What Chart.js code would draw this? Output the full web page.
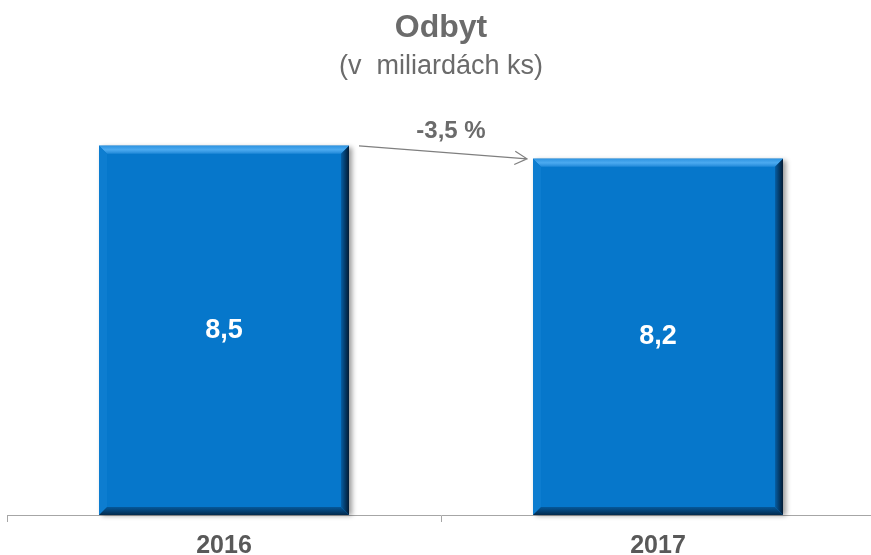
<!DOCTYPE html>
<html lang="cs">
<head>
    <meta charset="UTF-8">
    <title>Odbyt</title>
    <script src="https://cdn.jsdelivr.net/npm/chart.js"></script>
    <style>
        body {
            margin: 0;
            background: #ffffff;
            overflow: hidden;
        }
        canvas {
            display: block;
        }
    </style>
</head>
<body>
    <!-- a bit wider than the window: the last axis tick sits just off the right edge -->
    <canvas id="chart" width="875" height="555"></canvas>

    <script>
        // Data
        const years = ['2016', '2017'];
        const odbyt = [8.5, 8.2];
        const valueLabels = ['8,5', '8,2'];
        const changeLabel = '-3,5 %';

        const barBlue = '#0677cb';
        const textGrey = '#6b6b6b';

        // bevel look on the bars, like the office chart
        const bevelPlugin = {
            id: 'bevel',
            beforeDatasetsDraw(chart) {
                const ctx = chart.ctx;
                chart.getDatasetMeta(0).data.forEach(bar => {
                    const left = bar.x - bar.width / 2;
                    ctx.save();
                    ctx.shadowColor = 'rgba(0,0,0,0.4)';
                    ctx.shadowBlur = 5;
                    ctx.shadowOffsetX = 3;
                    ctx.shadowOffsetY = 1;
                    ctx.fillStyle = barBlue;
                    ctx.fillRect(left, bar.y, bar.width, bar.base - bar.y);
                    ctx.restore();
                });
            },
            afterDatasetsDraw(chart) {
                const ctx = chart.ctx;
                const b = 8;
                chart.getDatasetMeta(0).data.forEach(bar => {
                    const l = bar.x - bar.width / 2;
                    const r = bar.x + bar.width / 2;
                    const t = bar.y;
                    const btm = bar.base;
                    ctx.save();

                    // top
                    let g = ctx.createLinearGradient(0, t, 0, t + b);
                    g.addColorStop(0, '#2f95e2');
                    g.addColorStop(0.5, '#4caaf0');
                    g.addColorStop(1, '#1f88d8');
                    ctx.fillStyle = g;
                    ctx.beginPath();
                    ctx.moveTo(l, t); ctx.lineTo(r, t);
                    ctx.lineTo(r - b, t + b); ctx.lineTo(l + b, t + b);
                    ctx.closePath(); ctx.fill();

                    // left
                    ctx.fillStyle = '#0d7dd0';
                    ctx.beginPath();
                    ctx.moveTo(l, t); ctx.lineTo(l + b, t + b);
                    ctx.lineTo(l + b, btm - b); ctx.lineTo(l, btm);
                    ctx.closePath(); ctx.fill();

                    // right
                    g = ctx.createLinearGradient(r - b, 0, r, 0);
                    g.addColorStop(0, '#065ea4');
                    g.addColorStop(1, '#021a33');
                    ctx.fillStyle = g;
                    ctx.beginPath();
                    ctx.moveTo(r, t); ctx.lineTo(r, btm);
                    ctx.lineTo(r - b, btm - b); ctx.lineTo(r - b, t + b);
                    ctx.closePath(); ctx.fill();

                    // bottom
                    g = ctx.createLinearGradient(0, btm - b, 0, btm);
                    g.addColorStop(0, '#05589a');
                    g.addColorStop(1, '#032a4d');
                    ctx.fillStyle = g;
                    ctx.beginPath();
                    ctx.moveTo(l, btm); ctx.lineTo(r, btm);
                    ctx.lineTo(r - b, btm - b); ctx.lineTo(l + b, btm - b);
                    ctx.closePath(); ctx.fill();

                    ctx.restore();
                });
            }
        };

        // values in the bars + the change arrow
        const labelPlugin = {
            id: 'labels',
            afterDatasetsDraw(chart) {
                const ctx = chart.ctx;
                const bars = chart.getDatasetMeta(0).data;
                ctx.save();
                ctx.fillStyle = '#ffffff';
                ctx.font = 'bold 27px "Liberation Sans", Arial, sans-serif';
                ctx.textAlign = 'center';
                ctx.textBaseline = 'middle';
                bars.forEach((bar, i) => {
                    ctx.fillText(valueLabels[i], bar.x, (bar.y + bar.base) / 2);
                });

                // arrow between the tops
                const a = bars[0], c = bars[1];
                const x1 = a.x + a.width / 2 + 10, y1 = a.y;
                const x2 = c.x - c.width / 2 - 6, y2 = c.y;
                ctx.strokeStyle = '#7f7f7f';
                ctx.lineWidth = 1.2;
                ctx.beginPath();
                ctx.moveTo(x1, y1);
                ctx.lineTo(x2, y2);
                const ang = Math.atan2(y2 - y1, x2 - x1);
                const h = 14;
                ctx.moveTo(x2 - h * Math.cos(ang - 0.5), y2 - h * Math.sin(ang - 0.5));
                ctx.lineTo(x2, y2);
                ctx.lineTo(x2 - h * Math.cos(ang + 0.5), y2 - h * Math.sin(ang + 0.5));
                ctx.stroke();

                ctx.fillStyle = textGrey;
                ctx.font = 'bold 24px "Liberation Sans", Arial, sans-serif';
                ctx.fillText(changeLabel, (x1 + x2) / 2 + 8, Math.min(y1, y2) - 14);
                ctx.restore();
            }
        };

        new Chart(document.getElementById('chart'), {
            type: 'bar',
            data: {
                labels: years,
                datasets: [{
                    data: odbyt,
                    backgroundColor: barBlue,
                    barPercentage: 0.576,
                    categoryPercentage: 1.0
                }]
            },
            options: {
                responsive: false,
                animation: false,
                layout: {
                    padding: { left: 7, right: 0, top: 0, bottom: 0 }
                },
                scales: {
                    x: {
                        afterFit(scale) {
                            scale.height = 40;
                        },
                        grid: {
                            drawOnChartArea: false,
                            drawTicks: true,
                            tickLength: 7,
                            color: '#a6a6a6',
                            offset: true
                        },
                        border: { display: true, color: '#a6a6a6' },
                        ticks: {
                            color: '#595959',
                            padding: 10,
                            font: { family: '"Liberation Sans", Arial', size: 25, weight: 'bold', lineHeight: 1.1 }
                        }
                    },
                    y: {
                        display: false,
                        min: 0,
                        max: 9.95
                    }
                },
                plugins: {
                    legend: { display: false },
                    tooltip: { enabled: false },
                    title: {
                        display: true,
                        text: 'Odbyt',
                        color: textGrey,
                        font: { family: '"Liberation Sans", Arial', size: 32, weight: 'bold' },
                        padding: { top: 9, bottom: 0 }
                    },
                    subtitle: {
                        display: true,
                        text: '(v  miliardách ks)',
                        color: textGrey,
                        font: { family: '"Liberation Sans", Arial', size: 27 },
                        padding: { top: 3, bottom: 0 }
                    }
                }
            },
            plugins: [bevelPlugin, labelPlugin]
        });
    </script>
</body>
</html>
